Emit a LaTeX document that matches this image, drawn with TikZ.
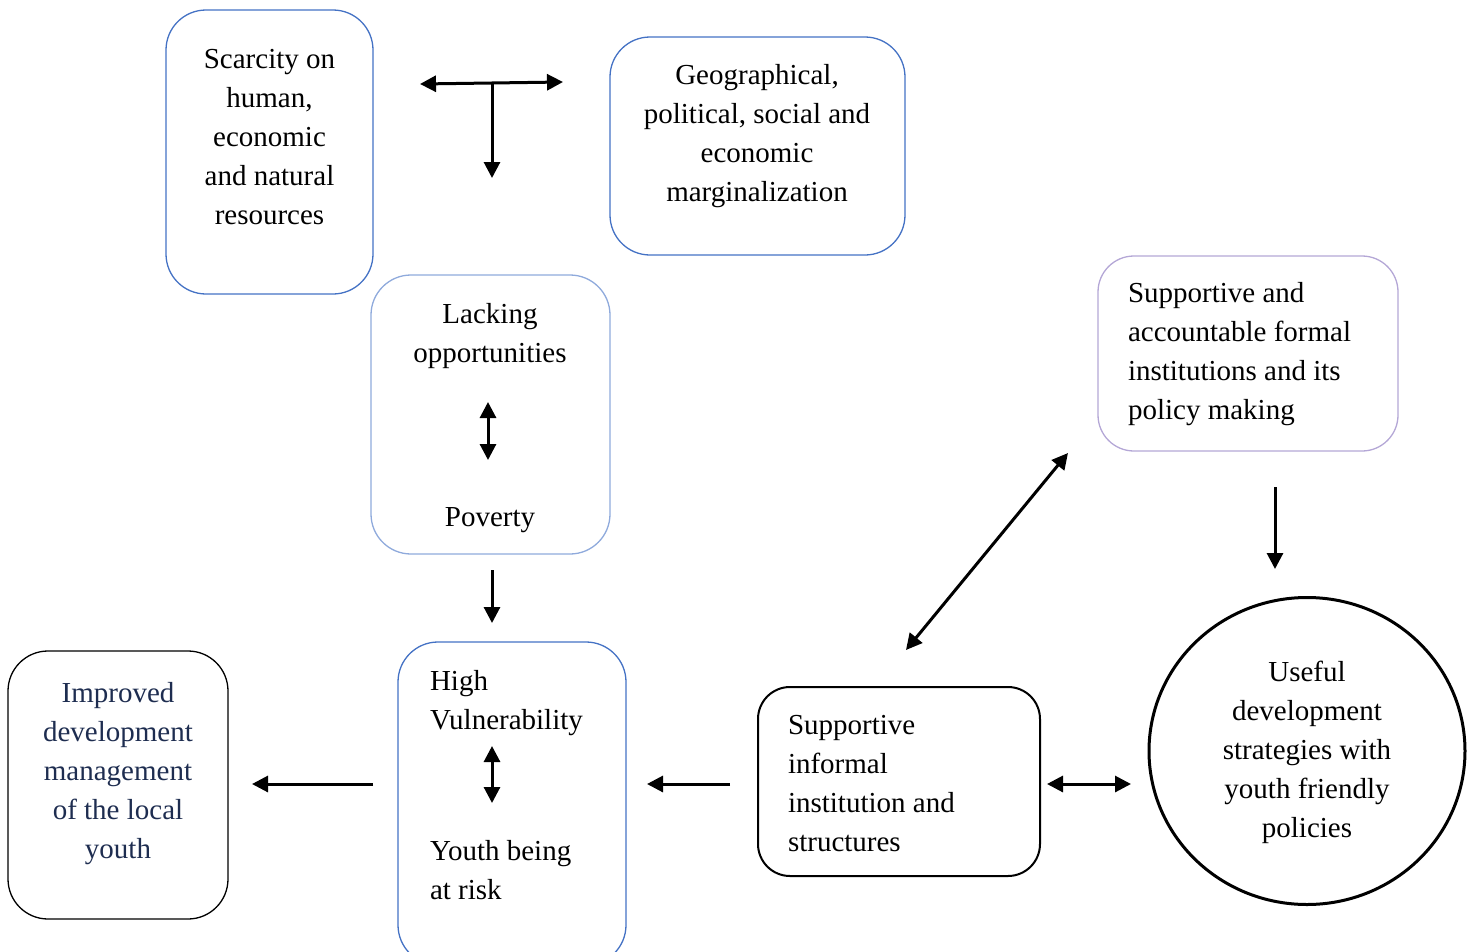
\documentclass[tikz,border=0pt]{standalone}
\usepackage{fontspec}
\setmainfont{Liberation Serif}
\usetikzlibrary{arrows.meta,shapes.geometric}
\definecolor{bluebd}{RGB}{68,114,196}
\definecolor{lightbd}{RGB}{143,170,220}
\definecolor{lavbd}{RGB}{180,167,214}
\definecolor{navy}{RGB}{30,45,80}
\begin{document}
\begin{tikzpicture}[x=1pt,y=-1pt,
  every node/.style={font=\fontsize{29}{39}\selectfont, inner sep=0pt, outer sep=0pt},
  box/.style={draw, rounded corners=40pt, line width=1.3pt},
  arr/.style={line width=3pt, -{Triangle[length=16pt,width=16pt]}},
  darr/.style={line width=3pt, {Triangle[length=16pt,width=16pt]}-{Triangle[length=16pt,width=16pt]}}]
\useasboundingbox (0,0) rectangle (1473,951);

% boxes
\node[box, draw=bluebd, minimum width=207pt, minimum height=284pt] (scar) at (269.5,152) {};
\node[box, draw=bluebd, minimum width=295pt, minimum height=218pt] (geo) at (757.5,146) {};
\node[box, draw=lightbd, minimum width=239pt, minimum height=279pt] (lack) at (490.5,414.5) {};
\node[box, draw=bluebd, minimum width=228pt, minimum height=323pt] (vul) at (512,803.5) {};
\node[box, draw=black, minimum width=220pt, minimum height=268pt] (impr) at (118,785) {};
\node[box, draw=black, line width=2pt, rounded corners=32pt, minimum width=282pt, minimum height=189pt] (inf) at (899,781.5) {};
\node[box, draw=lavbd, rounded corners=36pt, minimum width=300pt, minimum height=195pt] (form) at (1248,353.5) {};
\node[ellipse, draw=black, line width=3pt, minimum width=316pt, minimum height=307pt] (useful) at (1307,751) {};

% texts
\node[align=center] (scarT) at (269.5,139) {\strut Scarcity on\\human,\\economic\\and natural\\resources\strut};
\node[align=center] (geoT) at (757,135.5) {\strut Geographical,\\political, social and\\economic\\marginalization\strut};
\node[align=center] (lackT) at (490,335.5) {\strut Lacking\\opportunities\strut};
\node (povT) at (490,519) {\strut Poverty};
\node[align=left, anchor=west] (highT) at (430,702.5) {\strut High\\Vulnerability\strut};
\node[align=left, anchor=west] (riskT) at (430,872.5) {\strut Youth being\\at risk\strut};
\node[align=center, text=navy] (imprT) at (118,772.5) {\strut Improved\\development\\management\\of the local\\youth\strut};
\node[align=left, anchor=west] (infT) at (788,785) {\strut Supportive\\informal\\institution and\\structures\strut};
\node[align=left, anchor=west] (formT) at (1128,353.5) {\strut Supportive and\\accountable formal\\institutions and its\\policy making\strut};
\node[align=center] (usefulT) at (1307,751.5) {\strut Useful\\development\\strategies with\\youth friendly\\policies\strut};

% arrow endpoints
\coordinate (tL) at (420,84);
\coordinate (tR) at (563,82);
\coordinate (tM) at (492,83);
\coordinate (tD) at (492,178);
\coordinate (lpA) at (488,402);
\coordinate (lpB) at (488,460);
\coordinate (pvA) at (492,570);
\coordinate (pvB) at (492,623);
\coordinate (hvA) at (492,746);
\coordinate (hvB) at (492,803);
\coordinate (l1A) at (373,784);
\coordinate (l1B) at (252,784);
\coordinate (l2A) at (730,784);
\coordinate (l2B) at (647,784);
\coordinate (dhA) at (1047,784);
\coordinate (dhB) at (1131,784);
\coordinate (dgA) at (1068,453);
\coordinate (dgB) at (906,650);
\coordinate (fdA) at (1275,487);
\coordinate (fdB) at (1275,569);

% arrows
\draw[darr] (tL) -- (tR);
\draw[arr] (tM) -- (tD);
\draw[darr] (lpA) -- (lpB);
\draw[arr] (pvA) -- (pvB);
\draw[darr] (hvA) -- (hvB);
\draw[arr] (l1A) -- (l1B);
\draw[arr] (l2A) -- (l2B);
\draw[darr] (dhA) -- (dhB);
\draw[darr] (dgA) -- (dgB);
\draw[arr] (fdA) -- (fdB);
\end{tikzpicture}
\end{document}
